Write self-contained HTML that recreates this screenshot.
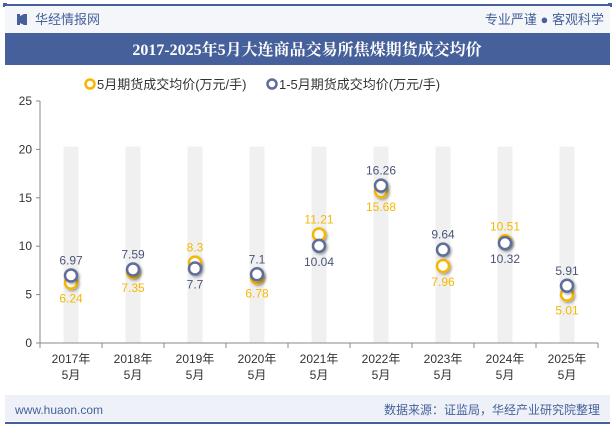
<!DOCTYPE html>
<html><head><meta charset="utf-8"><style>
body{margin:0;width:615px;height:427px;background:#fff;overflow:hidden;font-family:"Liberation Sans","Noto Sans CJK SC",sans-serif;}
svg{display:block}
</style></head><body>
<svg width="615" height="427" viewBox="0 0 615 427">
<defs><filter id="sh" x="-50%" y="-50%" width="200%" height="200%"><feDropShadow dx="1.5" dy="1.5" stdDeviation="1.2" flood-color="#000" flood-opacity="0.35"/></filter></defs>
<rect x="5" y="4" width="605" height="2" fill="#45609a"/>
<rect x="3" y="3" width="4" height="4" fill="#45609a"/><rect x="608" y="3" width="4" height="4" fill="#45609a"/>
<rect x="5" y="6" width="605" height="27" fill="#f4f6fa"/>
<g fill="#45609a"><rect x="17" y="14" width="3" height="11"/><rect x="24" y="14" width="3" height="11"/><polygon points="20,16 24,14 24,25 20,23"/></g>
<text x="35" y="24" font-size="13" fill="#45609a">华经情报网</text>
<text x="604" y="24" font-size="13" fill="#45609a" text-anchor="end">专业严谨 ● 客观科学</text>
<rect x="5" y="33" width="605" height="32" fill="#45609a"/>
<text x="307" y="55" font-size="16" font-weight="bold" fill="#fff" text-anchor="middle" font-family="'Liberation Serif','Noto Serif CJK SC',serif">2017-2025年5月大连商品交易所焦煤期货成交均价</text>
<g>
<circle cx="90" cy="84" r="4.5" fill="#fff" stroke="#f5b800" stroke-width="2.5"/>
<text x="97" y="89" font-size="13" fill="#333">5月期货成交均价(万元/手)</text>
<circle cx="272" cy="84" r="4.5" fill="#fff" stroke="#5f6e98" stroke-width="2.5"/>
<text x="279" y="89" font-size="13" fill="#333">1-5月期货成交均价(万元/手)</text>
</g>
<g id="plot"></g>
<rect x="5" y="395" width="605" height="26" fill="#eef2f8"/>
<text x="15" y="414" font-size="12" fill="#45609a">www.huaon.com</text>
<text x="600" y="414" font-size="12" fill="#45609a" text-anchor="end">数据来源：证监局，华经产业研究院整理</text>
<rect x="5" y="422" width="605" height="2" fill="#45609a"/>
</svg>
<script>
const categories=["2017年","2018年","2019年","2020年","2021年","2022年","2023年","2024年","2025年"];
const mayValues=[6.24,7.35,8.3,6.78,11.21,15.68,7.96,10.51,5.01];
const ytdValues=[6.97,7.59,7.7,7.1,10.04,16.26,9.64,10.32,5.91];
const yTicks=[0,5,10,15,20,25];
const NS="http://www.w3.org/2000/svg";
const g=document.getElementById('plot');
const x0=40,x1=598,yB=343,yT=101,yMax=25;
const bw=(x1-x0)/categories.length;
const X=i=>x0+bw*(i+0.5);
const Y=v=>yB-(v/yMax)*(yB-yT);
function el(t,a,txt){const e=document.createElementNS(NS,t);for(const k in a)e.setAttribute(k,a[k]);if(txt!=null)e.textContent=txt;g.appendChild(e);return e;}
categories.forEach((c,i)=>{
 const b=el('rect',{x:X(i)-7.5,y:Y(20.3),width:15,height:yB-Y(20.3),fill:'#f0f0f0'});
 
 
});
el('line',{x1:x0,y1:yT,x2:x0,y2:yB,stroke:'#888'});
el('line',{x1:x0,y1:yB,x2:x1,y2:yB,stroke:'#888'});
yTicks.forEach(t=>{
 el('line',{x1:x0-4,y1:Y(t),x2:x0,y2:Y(t),stroke:'#888'});
 const l=el('text',{x:x0-8,y:Y(t)+4,'font-size':12,fill:'#333','text-anchor':'end'},t);
 
 
});
for(let i=0;i<=categories.length;i++)el('line',{x1:x0+bw*i,y1:yB,x2:x0+bw*i,y2:yB+5,stroke:'#888'});
categories.forEach((c,i)=>{
 const l=el('text',{x:X(i),y:yB+20,'font-size':12,fill:'#333','text-anchor':'middle'},c);
 
 
 const l2=el('text',{x:X(i),y:yB+36,'font-size':12,fill:'#333','text-anchor':'middle'},'5月');
 
 
});
categories.forEach((c,i)=>{
 const m=mayValues[i],t=ytdValues[i];
 const p=el('circle',{cx:X(i),cy:Y(m),r:6,fill:'#fff',stroke:'#f5b800','stroke-width':2.5,filter:'url(#sh)'});
 
 
 const q=el('circle',{cx:X(i),cy:Y(t),r:6,fill:'#fff',stroke:'#5f6e98','stroke-width':2.5,filter:'url(#sh)'});
 
 
 const mUp=m>t;
 const lm=el('text',{x:X(i),y:mUp?Y(m)-11:Y(m)+20,'font-size':12,fill:'#f5b800','text-anchor':'middle'},m);
 
 
 const lt=el('text',{x:X(i),y:mUp?Y(t)+20:Y(t)-11,'font-size':12,fill:'#4a5578','text-anchor':'middle'},t);
 
 
});
</script>
</body></html>
